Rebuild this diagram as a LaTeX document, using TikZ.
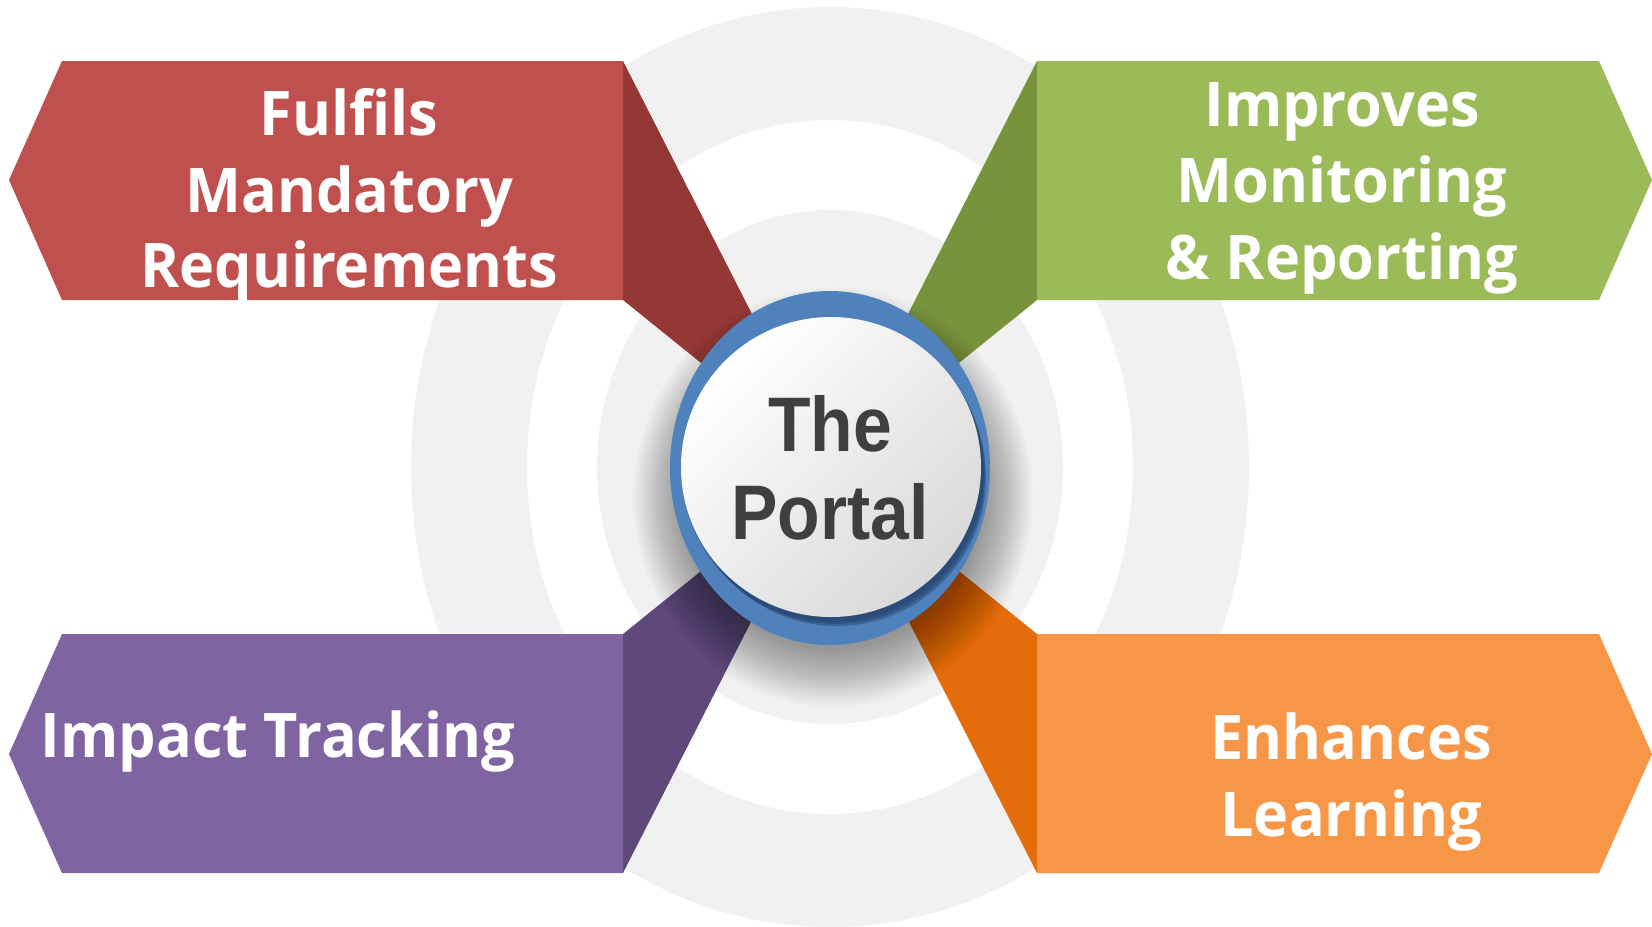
\documentclass[tikz,border=0pt]{standalone}
\usepackage{fontspec}
\newfontfamily\boxfont{Open Sans}[FakeStretch=0.965]
\newfontfamily\portalfont{Liberation Sans}
\definecolor{redL}{HTML}{C0504D}
\definecolor{redD}{HTML}{953735}
\definecolor{greenL}{HTML}{9BBB59}
\definecolor{greenD}{HTML}{77933C}
\definecolor{purpleL}{HTML}{8064A2}
\definecolor{purpleD}{HTML}{5F497A}
\definecolor{orangeL}{HTML}{F79646}
\definecolor{orangeD}{HTML}{E46C0A}
\definecolor{portalblue}{HTML}{4F81BD}
\definecolor{blueshade}{HTML}{1F3A5F}
\definecolor{ringgray}{HTML}{F1F1F1}
\definecolor{portaltext}{HTML}{3F3F3F}
\begin{document}
\begin{tikzpicture}[x=0.01cm,y=0.01cm,
  boxtext/.style={text=white, font=\boxfont\bfseries\fontsize{17.5}{21}\selectfont, anchor=base, inner sep=0pt},
  portaltxt/.style={text=portaltext, font=\portalfont\bfseries\fontsize{22}{26}\selectfont, anchor=base, inner sep=0pt, xscale=0.9, transform shape}]
\useasboundingbox (-830,-459) rectangle (822,467);
\fill[white] (-830,-459) rectangle (822,467);
% background rings
\fill[ringgray, even odd rule] (0,0) ellipse [x radius=419, y radius=460] (0,0) ellipse [x radius=303, y radius=347];
\fill[ringgray] (0,0) ellipse [x radius=233, y radius=257];
% folds
\fill[redD] (-207,406) -- (-207,167) -- (0,0) -- cycle;
\fill[greenD] (207,406) -- (207,167) -- (0,0) -- cycle;
\fill[purpleD] (-207,-406) -- (-207,-167) -- (0,0) -- cycle;
\fill[orangeD] (207,-406) -- (207,-167) -- (0,0) -- cycle;
% boxes
\fill[redL] (-821,287) -- (-768,406) -- (-207,406) -- (-207,167) -- (-768,167) -- cycle;
\fill[greenL] (822,287) -- (769,406) -- (207,406) -- (207,167) -- (769,167) -- cycle;
\fill[purpleL] (-821,-287) -- (-768,-406) -- (-207,-406) -- (-207,-167) -- (-768,-167) -- cycle;
\fill[orangeL] (822,-287) -- (769,-406) -- (207,-406) -- (207,-167) -- (769,-167) -- cycle;
% soft shadow
\foreach \i in {1,...,26}
  \fill[black, opacity=0.017] (3,-30) ellipse [x radius={148+2*\i}, y radius={150+2.3*\i}];
% portal
\fill[portalblue] (0,-1) ellipse [x radius=160, y radius=177];
\fill[blueshade, opacity=0.3] (3,-4) circle [radius=151];
\fill[blueshade, opacity=0.35] (5,-7) circle [radius=150];
\fill[blueshade, opacity=0.4] (7,-10) circle [radius=149];
\shade[top color=white, bottom color=black!15, shading angle=45] (1,0) circle [radius=150];
% texts
\node[portaltxt] (the) at (0,16) {The};
\node[portaltxt] (portal) at (0,-72) {Portal};
\node[boxtext] (r1) at (-481,332) {Fulfils};
\node[boxtext] (r2) at (-481,255) {Mandatory};
\node[boxtext] (r3) at (-481,180) {Requirements};
\node[boxtext] (g1) at (512,341) {Improves};
\node[boxtext] (g2) at (512,265) {Monitoring};
\node[boxtext] (g3) at (512,188) {\&~Reporting};
\node[boxtext] (o1) at (521,-292) {Enhances};
\node[boxtext] (o2) at (521,-369) {Learning};
\node[boxtext, anchor=base west] (p1) at (-790,-290) {Impact Tracking};
\end{tikzpicture}
\end{document}
